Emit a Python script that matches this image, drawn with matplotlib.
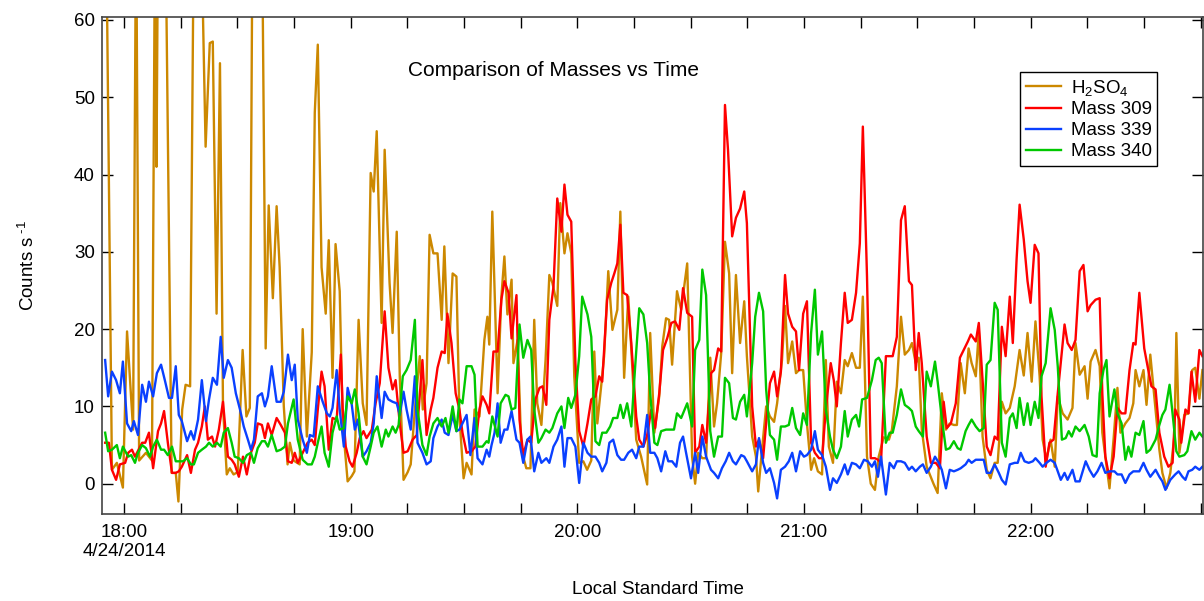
import numpy as np
import matplotlib
matplotlib.use('Agg')
import matplotlib.pyplot as plt
import matplotlib.dates as mdates
from matplotlib.ticker import MultipleLocator

plt.rcParams['font.family'] = ['Liberation Sans', 'DejaVu Sans']
plt.rcParams['mathtext.fontset'] = 'custom'
plt.rcParams['mathtext.rm'] = 'Liberation Sans'
plt.rcParams['mathtext.it'] = 'Liberation Sans'

# minutes after 18:00 on 4/24/2014, counts per second (values > 60 run off the top)
h2so4 = [(-5.0, 85), (-3.2, 1.8), (-1.9, 2.7), (-0.3, -0.5), (0.8, 19.7), (2.4, 7), (3.2, 75), (4.0, 3),
         (5.8, 4), (7.4, 3), (8.4, 90), (8.6, 41), (9.1, 80), (10.8, 80), (12.6, 1.4), (13.7, 1.4),
         (14.4, -2.3), (15.4, 9.6), (16.3, 12.8), (17.5, 12.6), (18.6, 80), (20.1, 80), (21.6, 43.6),
         (22.7, 57), (23.5, 57.2), (24.5, 22), (25.4, 54.4), (26.2, 10), (27.2, 1.2), (28.0, 2),
         (29.0, 1.2), (30.1, 1.5), (31.4, 17.3), (32.4, 8.7), (33.3, 9.8), (34.1, 80), (35.4, 80),
         (36.4, 80), (37.5, 17.5), (38.3, 36), (39.4, 24), (40.4, 35.9), (41.2, 28), (42.3, 10),
         (43.3, 2.5), (43.9, 5.3), (44.9, 3), (46.5, 2.5), (47.3, 20), (48.4, 6.1), (49.7, 17),
         (50.5, 48), (51.3, 56.8), (52.3, 28), (53.4, 22), (54.2, 31.5), (55.2, 13.7), (56.0, 31),
         (57.1, 24.9), (57.9, 7.8), (59.2, 0.3), (60.3, 1), (61.0, 1.6), (62.1, 21.2), (63.2, 10.4),
         (64.2, 7.6), (65.3, 40.2), (66.1, 37.8), (66.9, 45.6), (68.2, 20.8), (69.0, 43.2), (70.3, 26),
         (71.1, 19.5), (72.2, 32.6), (73.0, 13.9), (74.0, 0.5), (75.1, 1.5), (75.9, 2.5), (77.0, 9.6),
         (78.3, 16.5), (79.1, 9.6), (80.1, 13), (80.9, 32.2), (81.9, 29.8), (83.0, 29.8), (84.1, 21.2),
         (84.8, 30.7), (85.9, 15.6), (87.0, 27.2), (88.0, 26.8), (88.8, 8.7), (89.9, 0.7), (90.7, 2.7),
         (92.0, 1.2), (92.8, 9.6), (94.1, 8.7), (95.4, 18.6), (96.2, 21.6), (96.7, 18), (97.5, 35.2),
         (98.9, 11.7), (99.9, 24.2), (100.7, 29.4), (101.5, 21.9), (102.6, 26.4), (103.1, 15.6),
         (104.2, 18.6), (105.2, 4.4), (106.5, 2), (107.6, 2), (108.6, 21.2), (109.4, 10.4), (110.5, 7.6),
         (111.6, 16), (112.6, 27), (113.4, 26), (114.7, 23), (115.5, 36.3), (116.6, 29.8), (117.4, 32.4),
         (118.4, 29.8), (119.2, 13.9), (120.5, 2.7), (121.6, 2.9), (122.6, 1.8), (123.7, 3), (124.5, 17.1),
         (125.3, 7.8), (126.4, 13), (127.1, 16.5), (128.2, 27.5), (129.3, 19.9), (130.6, 22.5),
         (131.4, 35.2), (132.4, 13.7), (133.5, 24.2), (134.5, 15.6), (135.6, 5.7), (136.9, 3.5),
         (138.5, -0.1), (139.3, 19.5), (140.4, 6.6), (141.7, 11.3), (142.5, 17.8), (143.5, 21.4),
         (144.3, 21.2), (145.1, 15.4), (146.4, 24.9), (147.5, 22.5), (149.1, 28.5), (150.4, 3.5),
         (151.2, 0), (152.0, 4), (153.1, 3.3), (154.1, 3.3), (155.2, 16.3), (156.2, 7.4), (157.0, 10.4),
         (158.1, 16.9), (159.1, 31.3), (160.2, 27.2), (161.0, 14.3), (162.0, 27), (163.1, 18.2),
         (164.2, 23.6), (164.9, 16.5), (166.3, 6.1), (167.3, 3.5), (167.9, -1), (168.9, 4.4), (170.0, 10),
         (171.0, 8.7), (172.1, 8), (172.9, 10.4), (174.2, 16), (175.0, 23), (175.8, 15.6), (176.9, 18.4),
         (177.9, 14.3), (178.7, 14.7), (179.8, 14.7), (180.8, 7.8), (181.9, 1.8), (182.7, 3.3),
         (183.7, 1.6), (184.8, 1.2), (185.8, 16), (186.6, 4.8), (187.7, 2.7), (188.7, 13.2), (189.8, 11.7),
         (190.8, 16), (191.6, 15.2), (192.7, 16.9), (193.8, 15), (194.8, 15), (195.6, 24.2), (196.7, 3.5),
         (197.7, 0), (198.8, -0.8), (199.8, 3.5), (201.1, 6), (202.5, 5.7), (203.3, 7), (204.6, 12.6),
         (205.7, 21.6), (206.7, 16.7), (207.8, 17.3), (208.6, 18.2), (209.6, 15.6), (210.4, 16.3),
         (211.2, 7), (212.5, 2.2), (214.3, 0), (215.4, -1.2), (216.5, 11.7), (217.6, 7), (218.6, 7.8),
         (219.7, 7.6), (220.5, 7.6), (221.5, 15.6), (222.6, 11.7), (223.6, 17.5), (224.4, 15.6),
         (225.5, 13.9), (226.3, 19.7), (227.3, 6.1), (228.4, 1.8), (229.4, 0.7), (230.5, 2.7), (231.3, 2.7),
         (232.4, 10.6), (233.4, 9.1), (234.5, 9.8), (235.8, 12.6), (237.1, 17.3), (238.2, 14),
         (239.2, 19.5), (240.3, 13.2), (241.3, 21), (242.4, 13.9), (243.2, 5.7), (244.2, 3.1), (245.3, 5.7),
         (246.4, 2.2), (247.2, 11.3), (248.5, 9.1), (249.8, 8.3), (251.1, 9.8), (251.9, 18.2), (253.0, 14.1),
         (254.3, 15.2), (255.1, 11), (255.9, 15.8), (257.2, 17.3), (258.3, 15.2), (259.0, 6.6), (259.8, 3.5),
         (260.9, -0.6), (262.0, 5.9), (263.0, 12.4), (263.8, 6.6), (265.1, 7.8), (266.2, 8.5), (267.2, 10.4),
         (267.8, 14.7), (268.8, 12.6), (269.9, 14.7), (270.7, 10.2), (271.7, 16.7), (273.1, 9.6),
         (274.1, 4.4), (274.9, 1.4), (276.0, -0.6), (277.0, 1.4), (278.1, 6.3), (278.6, 19.5), (279.4, 4),
         (280.7, 8.9), (281.8, 9.1), (282.8, 14.7), (283.6, 15), (284.7, 11), (285.5, 14.7)]

mass309 = [(-5.0, 5.3), (-4.0, 5.3), (-3.2, 1.8), (-2.1, 0.5), (-1.1, 2.5), (0.3, 2.7), (1.1, 4), (2.1, 4.4),
           (2.9, 3.5), (4.8, 5.3), (5.6, 5.3), (6.6, 6.6), (7.7, 2), (9.0, 6.8), (9.8, 7.8), (10.6, 9.4),
           (11.6, 5.3), (12.7, 1.4), (13.7, 1.4), (14.5, 1.6), (15.3, 2.2), (16.7, 3.7), (17.7, 1.4),
           (18.8, 4.4), (19.6, 5.3), (20.6, 7.4), (21.4, 10), (22.2, 5.7), (23.3, 6.1), (24.1, 4.8), (25.1, 7),
           (26.2, 10.6), (27.5, 3.5), (28.5, 3.1), (29.3, 2.5), (30.4, 0.9), (31.5, 3.5), (32.5, 1.2),
           (33.6, 4), (34.6, 5.3), (35.4, 7.8), (36.5, 7.6), (37.3, 5.9), (38.1, 7.8), (39.1, 6.3), (40.4, 8.5),
           (41.5, 7.6), (42.6, 6.6), (43.4, 2.9), (44.4, 2.7), (45.2, 4), (46.0, 2.7), (47.3, 4), (48.6, 5.3),
           (49.7, 5.7), (50.5, 5), (51.3, 9.6), (52.3, 14.5), (53.1, 12.6), (54.2, 4.4), (55.2, 8.5),
           (56.3, 8.3), (57.4, 16.7), (57.9, 9.6), (58.7, 4.8), (59.7, 2.9), (60.5, 2.2), (61.6, 4), (62.4, 5.9),
           (63.4, 6.8), (64.2, 5.9), (65.6, 7), (66.6, 10.4), (67.7, 13), (69.0, 22.3), (70.0, 15), (71.1, 12.2),
           (71.9, 13.4), (73.0, 7.8), (74.0, 4), (75.1, 4.2), (76.4, 5.7), (77.5, 6.3), (78.2, 10.9), (79.0, 16),
           (80.1, 6.3), (81.2, 9.6), (81.9, 11.1), (83.0, 15), (84.1, 17.1), (84.9, 16.9), (85.6, 22),
           (86.7, 18.2), (87.8, 11.7), (88.8, 9.6), (89.6, 6.6), (90.7, 4), (92.0, 4.2), (93.0, 4.8), (94.1, 9.6),
           (94.9, 11.3), (96.0, 10.2), (96.7, 9.1), (97.8, 17.1), (98.9, 17.1), (99.9, 23.8), (100.7, 26.2),
           (101.8, 24.7), (102.6, 18.8), (103.9, 24.4), (104.7, 8.3), (105.7, 3.7), (106.8, 5.7), (107.8, 5.3),
           (108.9, 10.9), (110.0, 12.4), (110.8, 12.6), (111.8, 10.2), (112.6, 21.2), (113.7, 25.5),
           (114.7, 36.9), (115.8, 32.6), (116.6, 38.7), (117.4, 34.8), (118.4, 33.9), (119.5, 15.6),
           (120.5, 6.8), (121.6, 4.8), (122.7, 7.8), (123.7, 10.9), (124.8, 11.3), (125.8, 13.9), (126.6, 13.2),
           (127.9, 23.8), (129.0, 26), (129.8, 27.2), (130.6, 28.5), (131.4, 33.5), (132.2, 24.7),
           (133.2, 24.4), (134.3, 18.2), (135.6, 8.7), (136.4, 5.7), (137.5, 4.8), (138.5, 6.3), (139.6, 9.6),
           (140.6, 7.2), (141.7, 11.7), (142.7, 17.3), (143.8, 18.8), (144.9, 20.8), (145.9, 21), (147.0, 19.9),
           (148.0, 25.3), (149.1, 22.1), (150.4, 21.6), (151.2, 4), (152.3, 4.8), (153.1, 7.6), (154.1, 5.3),
           (155.4, 14.3), (156.2, 14.7), (157.3, 17.5), (158.1, 17.1), (159.1, 49), (159.9, 43.2), (161.0, 32),
           (162.0, 34.4), (163.1, 35.6), (164.2, 37.8), (164.9, 33.7), (166.3, 10), (167.3, 4.8), (168.1, 5.7),
           (169.2, 3.3), (170.0, 7.8), (171.0, 13), (172.1, 14.5), (172.9, 11.3), (173.9, 14.5), (175.0, 27),
           (175.8, 22), (176.9, 20.3), (177.9, 19.7), (178.7, 14.7), (179.8, 22), (180.8, 23.6), (181.9, 5.3),
           (182.9, 4), (184.0, 3.3), (184.8, 3.3), (185.8, 9.6), (187.1, 15.6), (187.9, 13.4), (188.7, 10),
           (189.8, 18.2), (190.8, 24.7), (191.6, 20.8), (192.7, 21.2), (193.8, 24.7), (194.8, 31.1),
           (195.6, 46.2), (196.7, 26.8), (197.7, 3.3), (198.8, 3.3), (199.6, 3.1), (200.4, 2.7), (201.7, 16.5),
           (202.7, 16.5), (203.5, 16.5), (204.6, 19), (205.7, 34.1), (206.7, 35.9), (207.8, 26.2), (208.6, 25.7),
           (209.6, 14.7), (210.4, 19.5), (211.2, 15.6), (212.5, 6.1), (213.6, 2.7), (214.9, 2.7), (216.0, 2),
           (217.0, 10.6), (217.8, 7.2), (218.9, 7.8), (220.2, 10.4), (221.3, 16.3), (222.3, 17.3), (223.4, 18.4),
           (224.2, 19.3), (225.5, 18.4), (226.3, 20.8), (227.3, 13.4), (228.4, 4.8), (229.4, 3.7), (230.5, 6.1),
           (231.3, 5.7), (232.4, 20.3), (233.4, 16.5), (234.5, 24.2), (235.3, 18.2), (236.3, 29), (237.1, 36.1),
           (238.2, 31.6), (239.2, 26.2), (240.0, 23.4), (241.1, 30.9), (242.1, 29.8), (242.9, 11.3),
           (244.0, 2.2), (245.0, 5.3), (246.1, 5.7), (247.2, 11.7), (248.0, 15.6), (249.0, 20.6), (249.8, 18.2),
           (250.9, 17.3), (251.9, 18.6), (253.0, 27.5), (254.0, 28.3), (255.1, 22.3), (255.9, 23.1),
           (257.2, 23.8), (258.3, 24), (259.0, 11.7), (259.8, 3.5), (260.9, 0.7), (262.0, 3.5), (263.0, 9.8),
           (264.1, 9.1), (265.1, 9.1), (266.2, 14.7), (267.2, 18.2), (267.8, 18), (268.8, 24.7), (270.1, 17.5),
           (270.9, 15.4), (272.0, 12.6), (273.1, 12.2), (274.1, 6.6), (275.4, 3.5), (276.5, 2.2), (277.6, 2.7),
           (278.3, 9.6), (279.4, 8.3), (279.9, 5.3), (281.0, 9.6), (281.8, 9.1), (282.6, 14.5), (283.6, 10.6),
           (284.7, 17.3), (285.5, 16.5)]

mass339 = [(-5.0, 16), (-4.2, 11.3), (-3.2, 14.5), (-2.1, 13.4), (-1.1, 11.7), (-0.3, 15.8), (0.8, 7.8),
           (1.9, 6.8), (2.6, 8.1), (3.7, 6.3), (4.8, 12.8), (5.8, 10.6), (6.6, 13.2), (7.7, 11.3), (8.7, 14.3),
           (9.8, 15.4), (10.8, 13.4), (11.9, 11.1), (12.7, 11.1), (13.7, 15.2), (14.5, 8.9), (15.3, 8.1),
           (16.7, 5.5), (17.7, 6.8), (18.5, 5.7), (19.6, 8.3), (20.6, 13.4), (21.7, 8.1), (22.5, 10.9),
           (23.5, 13.7), (24.6, 12.8), (25.6, 19), (26.4, 13.7), (27.5, 16), (28.5, 15), (29.6, 11.7),
           (30.7, 9.6), (31.7, 7.4), (32.8, 5.7), (33.6, 4.4), (34.4, 5.7), (35.4, 11.3), (36.5, 11.7),
           (37.3, 10), (38.1, 11.3), (39.1, 15.2), (40.4, 10.6), (41.5, 10.6), (42.3, 11.9), (43.4, 16.7),
           (44.4, 13.4), (45.2, 15.4), (46.0, 8.3), (47.3, 5.7), (48.4, 4), (49.2, 6.3), (50.2, 6.1),
           (51.3, 12.6), (52.6, 10.6), (53.7, 9.1), (54.5, 8.7), (55.2, 9.8), (56.3, 14.7), (57.1, 9.6),
           (58.2, 4.8), (59.2, 12.4), (60.3, 10.2), (61.1, 7), (61.9, 8.3), (63.2, 3.5), (64.2, 4.2), (65.3, 5.3),
           (66.1, 7.8), (66.9, 13.9), (68.2, 8.5), (69.0, 11.9), (70.0, 10.9), (71.1, 10.6), (72.2, 10.4),
           (73.0, 8.9), (74.0, 11.9), (74.8, 9.6), (75.9, 7), (77.0, 13.9), (77.7, 5.3), (79.0, 4), (80.1, 2.5),
           (81.2, 2.9), (81.9, 5.9), (83.0, 7.4), (84.1, 8.3), (84.9, 6.6), (85.9, 6.3), (87.0, 8.9), (88.0, 6.8),
           (88.8, 7), (89.6, 7.8), (90.7, 8.9), (91.7, 3.7), (92.8, 8.5), (93.6, 3.3), (94.9, 2.5), (96.0, 4.4),
           (96.7, 3.5), (97.3, 5), (98.1, 6.6), (98.9, 10.4), (99.7, 5.3), (100.7, 7), (101.5, 7), (102.6, 9.4),
           (103.9, 5.7), (104.7, 5.3), (105.7, 2.7), (106.8, 5.7), (107.6, 6.1), (108.6, 1.6), (109.7, 4),
           (110.5, 2.7), (111.8, 3.3), (112.6, 2.7), (113.7, 4.8), (114.7, 5.7), (115.8, 7.4), (116.6, 2.2),
           (117.4, 5.9), (118.4, 5.9), (119.5, 4.8), (120.5, 0.1), (121.6, 5.3), (122.7, 4), (123.7, 3.5),
           (124.8, 3.5), (125.8, 2.7), (126.6, 1.6), (127.7, 2.7), (128.5, 5.3), (129.5, 5.7), (130.6, 3.7),
           (131.6, 3.1), (132.4, 3.1), (133.5, 4), (134.5, 4.4), (135.6, 3.3), (136.4, 4.8), (137.5, 4.8),
           (138.5, 8.9), (139.3, 4), (140.4, 4), (141.2, 3.3), (142.2, 1.6), (143.3, 4.2), (144.1, 2.9),
           (145.1, 2.9), (146.2, 2.2), (147.2, 5.3), (148.0, 6.1), (148.8, 4), (150.1, 0.7), (151.2, 4),
           (152.0, 1.4), (153.1, 6.1), (154.1, 3.5), (155.4, 1.8), (156.2, 1.4), (157.3, 0.7), (158.3, 2),
           (159.3, 2.9), (160.2, 4), (161.2, 2.9), (162.0, 2.5), (163.4, 3.7), (164.2, 3.5), (164.9, 2.9),
           (166.3, 1.6), (167.3, 2.5), (168.1, 5.9), (169.2, 2.7), (170.0, 1.4), (171.0, 2), (172.1, 0.1),
           (172.9, -1.9), (173.9, 1.8), (175.0, 2.2), (176.0, 2.9), (176.9, 4), (177.9, 1.6), (179.0, 4.2),
           (180.0, 3.5), (180.8, 3.7), (181.9, 4.4), (182.9, 6.8), (183.7, 4.4), (184.8, 3.7), (185.8, 2.2),
           (186.9, -0.8), (187.7, 0.7), (188.7, 0.1), (189.8, 1.2), (190.8, 2.5), (191.6, 1.2), (192.7, 2.7),
           (193.8, 2.5), (194.8, 2), (195.9, 3.1), (196.9, 2.9), (198.0, 2.2), (198.8, 2.9), (199.6, 0.9),
           (200.4, 3.5), (201.7, -1.4), (202.7, 2.7), (203.8, 2), (204.6, 2.9), (205.7, 2.9), (206.7, 2.7),
           (207.8, 1.8), (208.6, 2.2), (209.6, 1.6), (210.7, 2.2), (211.5, 2.5), (212.5, 1.4), (213.6, 2.2),
           (214.7, 3.5), (215.7, 2.7), (216.5, 1.8), (217.6, -0.6), (218.6, 1.8), (219.7, 1.6), (220.7, 1.8),
           (221.5, 2), (222.8, 2.5), (223.6, 3.1), (224.4, 2.7), (225.5, 3.1), (226.5, 3.1), (227.6, 3.1),
           (228.4, 1.4), (229.4, 1.4), (230.5, 2.5), (231.6, 1.4), (232.4, 0.5), (233.4, -0.1), (234.5, 2.5),
           (235.8, 2.7), (236.6, 2.7), (237.4, 4), (238.4, 2.9), (239.5, 2.7), (240.6, 2.9), (241.3, 3.3),
           (242.4, 2.7), (243.2, 2.2), (244.2, 2.7), (245.3, 3.1), (246.4, 2.7), (247.2, 1.6), (248.0, 0.5),
           (249.0, 1.4), (249.8, 0.5), (251.1, 1.8), (251.9, 0.3), (253.0, 0.3), (253.8, 1.6), (254.6, 2.9),
           (255.6, 1.8), (256.7, 0.9), (257.7, 1.6), (258.8, 2.7), (259.8, 1.4), (260.9, 1.6), (262.2, 1.6),
           (263.0, 1.2), (264.1, 1.2), (265.1, 0.1), (266.2, 1.2), (267.2, 1.6), (268.8, 1.6), (269.9, 2.7),
           (270.7, 1.8), (271.7, 0.9), (273.1, 1.8), (274.1, 0.9), (274.9, 0.3), (275.7, -0.8), (277.0, 0.5),
           (278.3, 1.2), (279.2, 1.6), (280.2, 0.9), (281.0, 0.5), (281.8, 1.6), (282.8, 1.8), (283.6, 2.2),
           (284.7, 1.8), (285.5, 2.2)]

mass340 = [(-5.0, 6.6), (-4.2, 4.2), (-3.2, 4.4), (-1.9, 5), (-1.1, 3.3), (-0.3, 4.8), (1.1, 3.5), (1.9, 3.7),
           (2.9, 2.7), (3.7, 4), (4.8, 5), (5.8, 4.6), (6.9, 3.5), (7.7, 4.8), (8.7, 5.7), (9.8, 4.4),
           (10.6, 4.4), (11.6, 3.7), (12.7, 4.8), (13.7, 2.9), (14.8, 2.9), (15.6, 2.9), (16.7, 3.3),
           (17.7, 2.5), (18.5, 2.5), (19.6, 4), (20.6, 4.4), (21.7, 4.8), (22.5, 5.3), (23.5, 4.8), (24.6, 5.3),
           (25.6, 4.8), (26.4, 6.6), (27.5, 7.2), (28.5, 5.3), (29.3, 3.5), (30.4, 3.3), (31.5, 2.7),
           (32.5, 3.7), (33.6, 4), (34.4, 2.7), (35.4, 4.6), (36.5, 5.5), (37.3, 5.5), (38.1, 4.8), (39.1, 6.3),
           (40.4, 4.2), (41.5, 4.4), (42.6, 4.8), (43.4, 7.8), (44.9, 10.9), (46.0, 5.7), (47.3, 3.1),
           (48.6, 2.5), (49.7, 2.5), (50.5, 3.5), (51.3, 5.3), (52.3, 7.4), (53.1, 4), (54.2, 2.2), (55.2, 6.6),
           (56.3, 8.7), (57.1, 7), (58.2, 7.2), (59.2, 11.3), (60.3, 10.4), (61.1, 12.2), (62.1, 9.1),
           (63.2, 3.5), (64.2, 2.5), (65.3, 4.8), (66.1, 6.6), (67.1, 7.4), (68.2, 4.8), (69.3, 7), (70.0, 6.1),
           (71.1, 7.4), (71.9, 6.6), (72.7, 7.6), (73.8, 13.9), (74.8, 14.7), (75.9, 16), (77.0, 21.2),
           (77.7, 9.6), (79.0, 5), (80.1, 3.7), (80.9, 6.1), (81.9, 7.8), (83.0, 8.5), (84.1, 7.4), (85.1, 8.5),
           (85.9, 6.6), (87.0, 10), (88.0, 6.8), (88.8, 10.9), (89.6, 10.4), (90.7, 15.2), (92.0, 15.2),
           (92.8, 14.1), (93.6, 4.8), (94.9, 4.8), (96.0, 5.5), (96.5, 5.3), (97.5, 8.7), (98.9, 6.1),
           (99.7, 10.4), (101.0, 11.5), (101.8, 11.3), (102.6, 9.6), (103.6, 9.8), (104.7, 20.6), (105.7, 16.3),
           (106.8, 18.6), (107.8, 17.3), (108.6, 9.6), (109.7, 5.3), (110.5, 5.9), (111.6, 7), (112.6, 6.6),
           (113.4, 7.2), (114.7, 9.1), (115.8, 10), (116.6, 7.2), (117.6, 11.1), (118.4, 9.8), (119.5, 11.5),
           (120.5, 16.5), (121.3, 24.2), (122.7, 21.9), (123.7, 19), (124.8, 5.5), (125.8, 5), (126.6, 6.6),
           (127.7, 6.6), (128.7, 7.4), (129.5, 8.5), (130.6, 8.5), (131.4, 10.2), (132.2, 8.5), (133.2, 10.4),
           (134.3, 7.4), (135.3, 15), (136.4, 22.7), (137.5, 21.9), (138.5, 18.2), (139.3, 11.7), (140.4, 5.3),
           (141.2, 5), (142.2, 6.8), (143.5, 7), (144.6, 7), (145.6, 7), (146.4, 9.1), (147.5, 8.5),
           (149.1, 10.4), (150.4, 7.4), (151.2, 17.3), (152.3, 18.6), (153.1, 27.7), (154.1, 24.4), (155.2, 6.8),
           (156.2, 3.5), (157.3, 6.1), (158.3, 6.1), (159.1, 13.7), (160.2, 13), (161.2, 8.5), (162.0, 8.3),
           (163.1, 10.6), (164.2, 11.5), (164.9, 8.7), (166.3, 15.6), (167.1, 21.6), (168.1, 24.7),
           (169.2, 22.3), (170.0, 12.2), (171.0, 6.3), (172.1, 5.7), (172.9, 3.1), (173.9, 7.4), (175.0, 7.4),
           (176.0, 7.6), (176.9, 9.8), (177.9, 7.2), (179.0, 6.3), (179.8, 9.1), (180.8, 7.6), (181.9, 19.5),
           (182.9, 25.1), (183.7, 16.7), (184.8, 19.7), (185.8, 9.6), (186.9, 6.1), (187.7, 4.4), (188.7, 3.3),
           (189.8, 4.8), (190.8, 9.4), (191.6, 6.1), (192.7, 8.3), (193.8, 8.9), (194.6, 7.4), (195.4, 10.9),
           (196.7, 11.1), (198.0, 13.4), (199.0, 16), (199.8, 16.3), (200.6, 15.6), (201.7, 5.3), (202.7, 6.6),
           (203.5, 6.6), (204.6, 8.9), (205.7, 12.2), (206.7, 10.2), (207.8, 9.8), (208.6, 9.4), (209.6, 7.4),
           (210.4, 6.8), (211.5, 6.1), (212.5, 14.5), (213.6, 12.6), (214.7, 15.8), (215.4, 13.2), (216.5, 8.5),
           (217.6, 4.4), (218.6, 4.6), (219.7, 5.5), (220.7, 4.6), (221.5, 4.4), (222.8, 6.8), (223.6, 7.6),
           (224.4, 8.3), (225.5, 7.4), (226.5, 6.8), (227.6, 7.2), (228.4, 15.4), (229.4, 16), (230.5, 23.4),
           (231.3, 22.5), (232.4, 5.3), (233.4, 3.5), (234.5, 8.5), (235.3, 9.1), (236.3, 7.2), (237.1, 11.1),
           (238.2, 7.6), (239.2, 10.4), (240.0, 7.6), (241.1, 10.6), (242.1, 8.5), (242.9, 13.9), (244.0, 15.6),
           (245.3, 22.7), (246.4, 19.9), (247.2, 15.2), (248.3, 5.7), (249.3, 5.9), (250.1, 6.8), (250.9, 6.1),
           (251.9, 7.4), (253.0, 6.8), (254.3, 7.6), (255.4, 6.1), (256.4, 3.7), (257.5, 3.5), (258.3, 11.7),
           (259.3, 14.7), (260.1, 16), (260.9, 8.7), (262.2, 12.2), (263.0, 9.1), (264.1, 7.8), (265.1, 3.1),
           (265.9, 4.8), (266.7, 3.5), (267.8, 6.6), (268.8, 6.3), (269.9, 8.1), (270.7, 4), (271.7, 4.4),
           (273.1, 5.7), (274.1, 7.6), (274.9, 8.9), (275.7, 9.6), (276.8, 12.8), (277.8, 8.1), (278.6, 4.2),
           (279.4, 3.5), (280.7, 3.7), (281.5, 4.2), (282.6, 6.8), (283.6, 5.7), (284.7, 6.6), (285.5, 6.1)]

series = [(h2so4, 'H$_2$SO$_4$', '#CC8800'),
          (mass309, 'Mass 309', '#FF0000'),
          (mass339, 'Mass 339', '#0A40FF'),
          (mass340, 'Mass 340', '#00C800')]

t0 = np.datetime64('2014-04-24T18:00:00')


def to_time(minutes):
    secs = np.round(np.asarray(minutes) * 60).astype(int)
    return t0 + secs.astype('timedelta64[s]')


fig = plt.figure(figsize=(12.04, 6.01), dpi=100)
ax = fig.add_axes([0.0845, 0.145, 0.9145, 0.827])

for data, label, color in series:
    t, v = zip(*data)
    ax.plot(to_time(t), v, color=color, lw=1.7, label=label)

ax.set_xlim(to_time(-5.9), to_time(285.6))
ax.set_ylim(-3.9, 60.4)

ax.xaxis.set_major_locator(mdates.HourLocator())
ax.xaxis.set_minor_locator(mdates.MinuteLocator(byminute=[15, 30, 45]))


def time_label(x, pos=None):
    d = mdates.num2date(x)
    s = d.strftime('%H:%M')
    if d.hour == 18:
        s += '\n4/24/2014'
    return s


ax.xaxis.set_major_formatter(plt.FuncFormatter(time_label))
ax.yaxis.set_major_locator(MultipleLocator(10))

ax.tick_params(axis='both', which='both', direction='in', length=8, width=1,
               top=True, right=True, labelsize=13.5)
ax.tick_params(axis='x', which='major', pad=7)
ax.tick_params(axis='y', which='major', pad=5)
for sp in ax.spines.values():
    sp.set_color('#444444')
    sp.set_linewidth(1.2)

ax.set_xlabel('Local Standard Time', fontsize=13.5)
ax.xaxis.set_label_coords(0.505, -0.153)
ax.xaxis.label.set_va('center')
ax.set_ylabel(r'Counts s$^{\ \text{-1}}$', fontsize=13.5)
ax.yaxis.set_label_coords(-0.067, 0.5)
ax.yaxis.label.set_va('center')

ax.text(0.41, 0.893, 'Comparison of Masses vs Time', transform=ax.transAxes,
        ha='center', va='center', fontsize=15)

leg = ax.legend(loc='upper left', bbox_to_anchor=(0.834, 0.889), borderaxespad=0,
                fontsize=13.5, fancybox=False, edgecolor='black', framealpha=1,
                handlelength=1.9, handletextpad=0.5, labelspacing=0.2,
                borderpad=0.3)
leg.get_frame().set_linewidth(1.0)

fig.savefig('out.png', dpi=100)
